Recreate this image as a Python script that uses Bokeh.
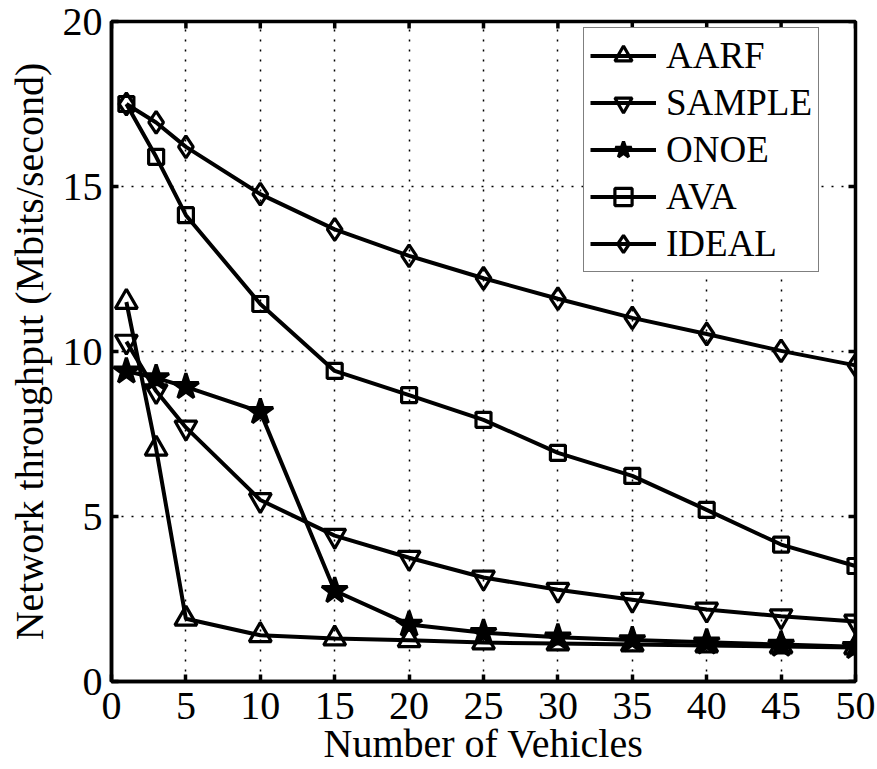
import math
from bokeh.plotting import figure
from bokeh.models import Range1d, Legend, LegendItem, FixedTicker
from bokeh.embed import file_html
from bokeh.resources import INLINE

vehicles = [1, 3, 5, 10, 15, 20, 25, 30, 35, 40, 45, 50]
aarf = [11.5, 7.05, 1.9, 1.4, 1.3, 1.25, 1.18, 1.15, 1.12, 1.09, 1.06, 1.03]
sample = [10.3, 8.8, 7.7, 5.5, 4.42, 3.75, 3.15, 2.78, 2.48, 2.18, 1.98, 1.82]
onoe = [9.4, 9.2, 8.93, 8.17, 2.75, 1.73, 1.48, 1.34, 1.26, 1.19, 1.12, 1.05]
ava = [17.5, 15.9, 14.13, 11.44, 9.41, 8.68, 7.93, 6.93, 6.23, 5.2, 4.15, 3.5]
ideal = [17.5, 16.94, 16.2, 14.77, 13.7, 12.9, 12.22, 11.6, 11.02, 10.53, 10.02, 9.58]
series_names = ["AARF", "SAMPLE", "ONOE", "AVA", "IDEAL"]
x_ticks = [0, 5, 10, 15, 20, 25, 30, 35, 40, 45, 50]
y_ticks = [0, 5, 10, 15, 20]
x_max = 50
y_max = 20

FONT = "Liberation Serif"

p = figure(width=877, height=769, output_backend="svg", toolbar_location=None,
           x_range=Range1d(0, x_max), y_range=Range1d(0, y_max),
           min_border_left=111, min_border_right=22, min_border_top=21,
           min_border_bottom=88)
p.outline_line_color = "black"
p.outline_line_width = 3.5
p.background_fill_color = "white"
p.border_fill_color = "white"

def style_axis(ax, ticks):
    ax.ticker = FixedTicker(ticks=ticks)
    ax.axis_line_width = 3.5
    ax.axis_line_color = "black"
    ax.major_tick_in = 7
    ax.major_tick_out = 0
    ax.major_tick_line_width = 3.5
    ax.minor_tick_line_color = None
    ax.major_label_text_font = FONT
    ax.major_label_text_font_size = "40px"
    ax.major_label_text_color = "black"
    ax.axis_label_text_font = FONT
    ax.axis_label_text_font_size = "40px"
    ax.axis_label_text_font_style = "normal"
    ax.axis_label_text_color = "black"

style_axis(p.xaxis[0], x_ticks)
style_axis(p.yaxis[0], y_ticks)
p.xaxis[0].axis_label = "Number of Vehicles"
p.yaxis[0].axis_label = "Network throughput (Mbits/second)"
p.xaxis[0].major_label_standoff = 11
p.xaxis[0].axis_label_standoff = -1
p.yaxis[0].major_label_standoff = 9
p.yaxis[0].axis_label_standoff = 8

# inward ticks on the top and right edges of the box
p.ray(x=x_ticks, y=[y_max] * len(x_ticks), length=7, length_units="screen",
      angle=-math.pi / 2, line_color="black", line_width=3.5)
p.ray(x=[x_max] * len(y_ticks), y=y_ticks, length=7, length_units="screen",
      angle=math.pi, line_color="black", line_width=3.5)

for g, t in ((p.xgrid[0], x_ticks), (p.ygrid[0], y_ticks)):
    g.ticker = FixedTicker(ticks=t)
    g.grid_line_color = "black"
    g.grid_line_dash = "2 8"
    g.grid_line_width = 1.5

data = [aarf, sample, onoe, ava, ideal]
markers = ["triangle", "inverted_triangle", "star", "square", "diamond"]
sizes = [22, 22, 27, 15, 22]
fills = [0, 0, 1, 0, 0]
items = []
for name, ys, mk, sz, fa in zip(series_names, data, markers, sizes, fills):
    lr = p.line(vehicles, ys, line_color="black", line_width=4)
    sr = p.scatter(vehicles, ys, marker=mk, size=sz, line_color="black",
                   line_width=3.2, fill_color="black", fill_alpha=fa)
    items.append(LegendItem(label=name, renderers=[lr, sr]))

legend = Legend(items=items, location=(472, 409))
legend.label_text_font = FONT
legend.label_text_font_size = "37px"
legend.label_text_color = "black"
legend.glyph_width = 66
legend.glyph_height = 43
legend.label_height = 43
legend.label_standoff = 10
legend.spacing = 4
legend.padding = 6
legend.margin = 0
legend.border_line_color = "black"
legend.border_line_width = 1.5
legend.background_fill_color = "white"
legend.background_fill_alpha = 1
p.add_layout(legend, "center")

open("out.html", "w").write(file_html(p, INLINE))
